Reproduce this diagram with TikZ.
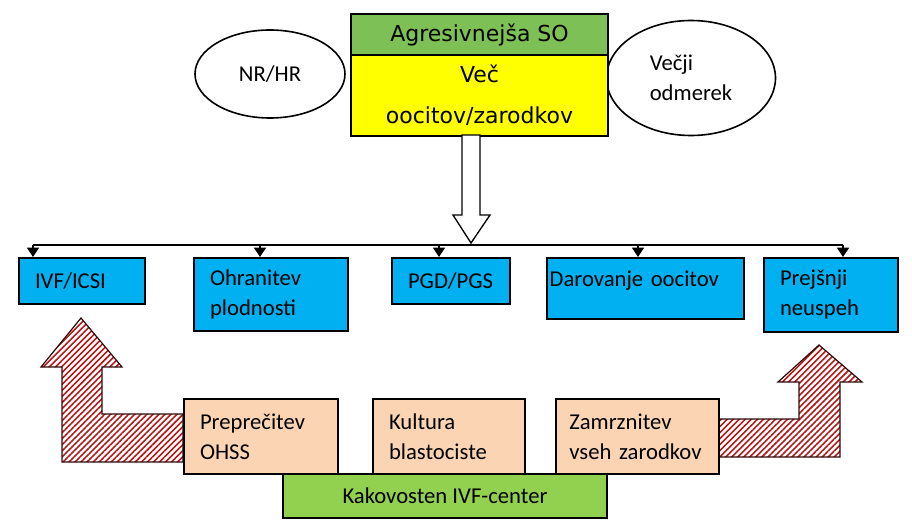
\documentclass[tikz,border=0pt]{standalone}
\usepackage{fontspec}
\setmainfont{Carlito}
\newfontfamily\verdfont{DejaVu Sans}
\usetikzlibrary{arrows.meta,patterns.meta,shapes.geometric}
\hyphenpenalty=10000

\definecolor{sogreen}{RGB}{125,192,85}
\definecolor{kakgreen}{RGB}{146,208,80}
\definecolor{vecyellow}{RGB}{255,255,0}
\definecolor{metblue}{RGB}{0,176,240}
\definecolor{peach}{RGB}{251,212,180}
\definecolor{hatchred}{RGB}{175,28,28}

\tikzset{every picture/.style={line width=0.75pt}}
\tikzset{
  box/.style={draw=black, line width=1.5pt, anchor=north west, inner ysep=0pt,
    font=\fontsize{17}{22.5}\selectfont, align=left},
  metbox/.style={box, fill=metblue, inner xsep=12pt},
  ivfbox/.style={box, fill=peach, inner xsep=12pt},
  labbox/.style={box, fill=kakgreen, align=center, inner xsep=0pt},
  sobox/.style={box, align=center, inner xsep=0pt, minimum width=192.75pt,
    font=\verdfont\fontsize{16.5}{30.75}\selectfont},
  ovalnode/.style={draw=black, line width=1.2pt, ellipse, inner sep=0pt,
    font=\fontsize{17}{22.5}\selectfont, align=left},
  hatcharrow/.style={draw=black!70!hatchred, line width=0.9pt,
    pattern={Lines[angle=45,distance=3.2pt,line width=1.2pt]}, pattern color=hatchred},
  hollowarrow/.style={draw=black, line width=1pt, fill=white},
  bustip/.style={-{Triangle[width=9pt,length=7pt]}, line width=1.2pt},
}

\begin{document}
\begin{tikzpicture}[x=0.75pt,y=0.75pt,yscale=-1,xscale=1]
\useasboundingbox (0,0) rectangle (912,531);

%Shape: Ellipse
\node[ovalnode, minimum width=112.5pt, minimum height=66pt] (nrhr) at (270,74) {NR/HR};
\node[ovalnode, minimum width=126.75pt, minimum height=86.25pt] (vecji) at (691,78) {Večji\\odmerek};

%Shape: Rectangle
\node[sobox, fill=sogreen, minimum height=30.75pt] (so) at (350,13) {Agresivnejša SO};
\node[sobox, fill=vecyellow, minimum height=60.75pt] (vec) at (350,54) {Več\\oocitov/zarodkov};

%Straight Lines
\coordinate (t1) at (33,245);
\coordinate (t2) at (260,245);
\coordinate (t3) at (439,245);
\coordinate (t4) at (638,245);
\coordinate (t5) at (843,245);
\draw[line width=1.2pt] (t1) -- (t5);

%Shape: Rectangle
\node[metbox, minimum width=94.5pt, minimum height=34.5pt, text width=70.5pt] (ivf) at (18,257) {IVF/ICSI};
\node[metbox, minimum width=115.5pt, minimum height=54.75pt, text width=91.5pt] (ohr) at (193,257) {Ohranitev\\plodnosti};
\node[metbox, minimum width=88.5pt, minimum height=34.5pt, text width=64.5pt] (pgd) at (391,257) {PGD/PGS};
\node[metbox, inner xsep=2pt, minimum width=147.75pt, minimum height=45.75pt, text width=143.75pt] (dar) at (546,257) {Darovanje oocitov\\[-8pt]\mbox{}};
\node[metbox, minimum width=100.5pt, minimum height=55.5pt, text width=76.5pt] (pre) at (763,257) {Prejšnji\\neuspeh};

\draw[bustip] (t1) -- (t1 |- ivf.north);
\draw[bustip] (t2) -- (t2 |- ohr.north);
\draw[bustip] (t3) -- (t3 |- pgd.north);
\draw[bustip] (t4) -- (t4 |- dar.north);
\draw[bustip] (t5) -- (t5 |- pre.north);

%Down Arrow
\draw[hollowarrow] (462,135) -- (462,215) -- (453,215) -- (471,243) -- (490,215) -- (480,215) -- (480,135) -- cycle;

%Bent Up Arrow
\draw[hatcharrow] (183,414) -- (102,414) -- (102,367) -- (122,367) -- (81,318) -- (41,367) -- (62,367) -- (62,462) -- (183,462) -- cycle;
\draw[hatcharrow] (718,419) -- (799,419) -- (799,382) -- (778,382) -- (819,345) -- (862,382) -- (840,382) -- (840,457) -- (718,457) -- cycle;

%Shape: Rectangle
\node[ivfbox, minimum width=115.5pt, minimum height=56.25pt, text width=91.5pt] (ohss) at (183,398) {Preprečitev\\OHSS};
\node[ivfbox, minimum width=114pt, minimum height=56.25pt, text width=90pt] (kul) at (372,398) {Kultura\\blastociste};
\node[ivfbox, inner xsep=10pt, minimum width=122.25pt, minimum height=56.25pt, text width=102.25pt] (zam) at (555,398) {Zamrznitev\\vseh zarodkov};
\node[labbox, minimum width=243pt, minimum height=33pt] (kak) at (282,473) {Kakovosten IVF-center};

\end{tikzpicture}
\end{document}
